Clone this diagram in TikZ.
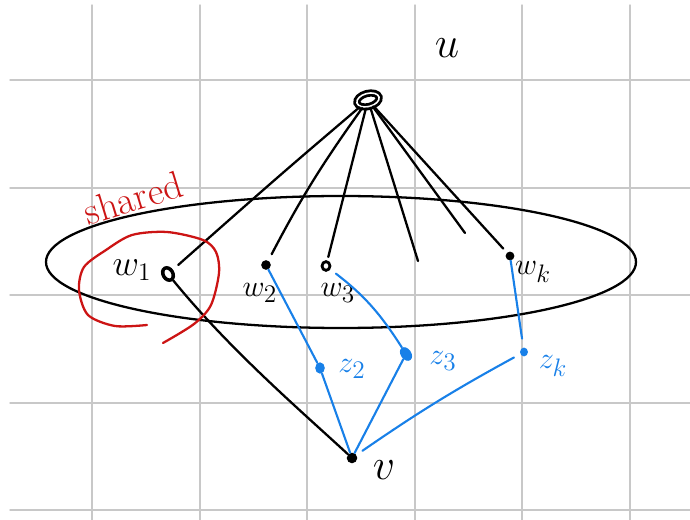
\documentclass[tikz,border=0pt]{standalone}
\usepackage{tikz}
\usetikzlibrary{shapes.geometric}
\definecolor{penblue}{RGB}{24,128,232}
\definecolor{penred}{RGB}{204,20,20}
\definecolor{gridgray}{RGB}{200,200,200}

\begin{document}
\begin{tikzpicture}[x=0.02cm,y=-0.02cm,line cap=round,
  ink/.style={black,line width=1.3pt},
  blueink/.style={penblue,line width=1.2pt},
  dot/.style={circle,fill=black,inner sep=0pt,minimum size=5.5pt},
  bluedot/.style={ellipse,fill=penblue,inner sep=0pt,minimum width=5.5pt,minimum height=6.5pt},
  ring/.style={ellipse,draw=black,fill=white,line width=1.6pt,inner sep=0pt,minimum width=4.5pt,minimum height=5pt},
  lbl/.style={font=\fontsize{19}{19}\selectfont}]
\useasboundingbox (0,0) rectangle (690,520);
% grid
\foreach \gx in {92,200,307,415,522,630} \draw[gridgray,line width=0.8pt] (\gx,5) -- (\gx,520);
\foreach \gy in {80,188,295,403,510} \draw[gridgray,line width=0.8pt] (10,\gy) -- (690,\gy);
% the set of neighbours
\draw[ink] (341,262) ellipse [x radius=295, y radius=66];
% vertices
\node[ellipse,draw=black,fill=white,line width=1.6pt,double=white,double distance=0.9pt,inner sep=0pt,minimum width=13pt,minimum height=7.5pt,rotate=15] (u) at (368,100) {};
\node[ring,line width=2pt,minimum width=5.5pt,minimum height=7.5pt,rotate=30] (w1) at (168,274) {};
\node[dot] (w2) at (266,265) {};
\node[ring] (w3) at (326,266) {};
\node[dot,minimum size=5pt] (wk) at (510,256) {};
\node[bluedot] (z2) at (320,368) {};
\node[bluedot,minimum width=6pt,minimum height=8.5pt,rotate=35] (z3) at (406,354) {};
\node[bluedot,minimum width=4.5pt,minimum height=5pt] (zk) at (524,352) {};
\node[dot,minimum size=6pt] (v) at (352,458) {};
\coordinate (free1) at (418,261);
\coordinate (free2) at (465,233);
% labels
\node[font=\fontsize{40}{40}\selectfont] (ulbl) at (447,48) {$u$};
\node[lbl,font=\fontsize{22}{22}\selectfont] (w1lbl) at (132,270) {$w_1$};
\node[lbl] (w2lbl) at (260,293) {$w_2$};
\node[lbl] (w3lbl) at (338,293) {$w_3$};
\node[lbl] (wklbl) at (533,272) {$w_k$};
\node[lbl,penblue] (z2lbl) at (352,369) {$z_2$};
\node[lbl,penblue] (z3lbl) at (443,361) {$z_3$};
\node[lbl,penblue] (zklbl) at (553,366) {$z_k$};
\node[font=\fontsize{30}{30}\selectfont] (vlbl) at (384,470) {$v$};
\node[penred,font=\fontsize{22}{22}\selectfont,rotate=17] (sharedlbl) at (133,198) {shared};
% edges from u
\draw[ink,shorten >=4pt] (u) .. controls (280,175) .. (w1);
\draw[ink,shorten >=4pt] (u) to[bend right=4] (w2);
\draw[ink,shorten >=2pt] (u) -- (w3);
\draw[ink] (u) -- (free1);
\draw[ink] (u) -- (free2);
\draw[ink,shorten >=3pt] (u) -- (wk);
% path from w1 to v
\draw[ink] (w1) .. controls (230,350) and (300,410) .. (v);
% blue paths
\draw[blueink] (w2) -- (z2);
\draw[blueink,shorten <=4pt] (w3) to[bend left=10] (z3);
\draw[blueink,shorten >=5pt] (wk) -- (zk);
\draw[blueink] (z2) -- (v);
\draw[blueink] (z3) -- (v);
\draw[blueink,shorten <=4pt,shorten >=4pt] (zk) to[bend right=3] (v);
% shared circle
\draw[penred,line width=1.3pt] plot[smooth] coordinates {(147,325) (115,326) (88,315) (79,290) (84,267) (106,250) (132,235) (167,232) (203,240) (216,252) (219,273) (211,305) (194,324) (163,343)};
\end{tikzpicture}
\end{document}
